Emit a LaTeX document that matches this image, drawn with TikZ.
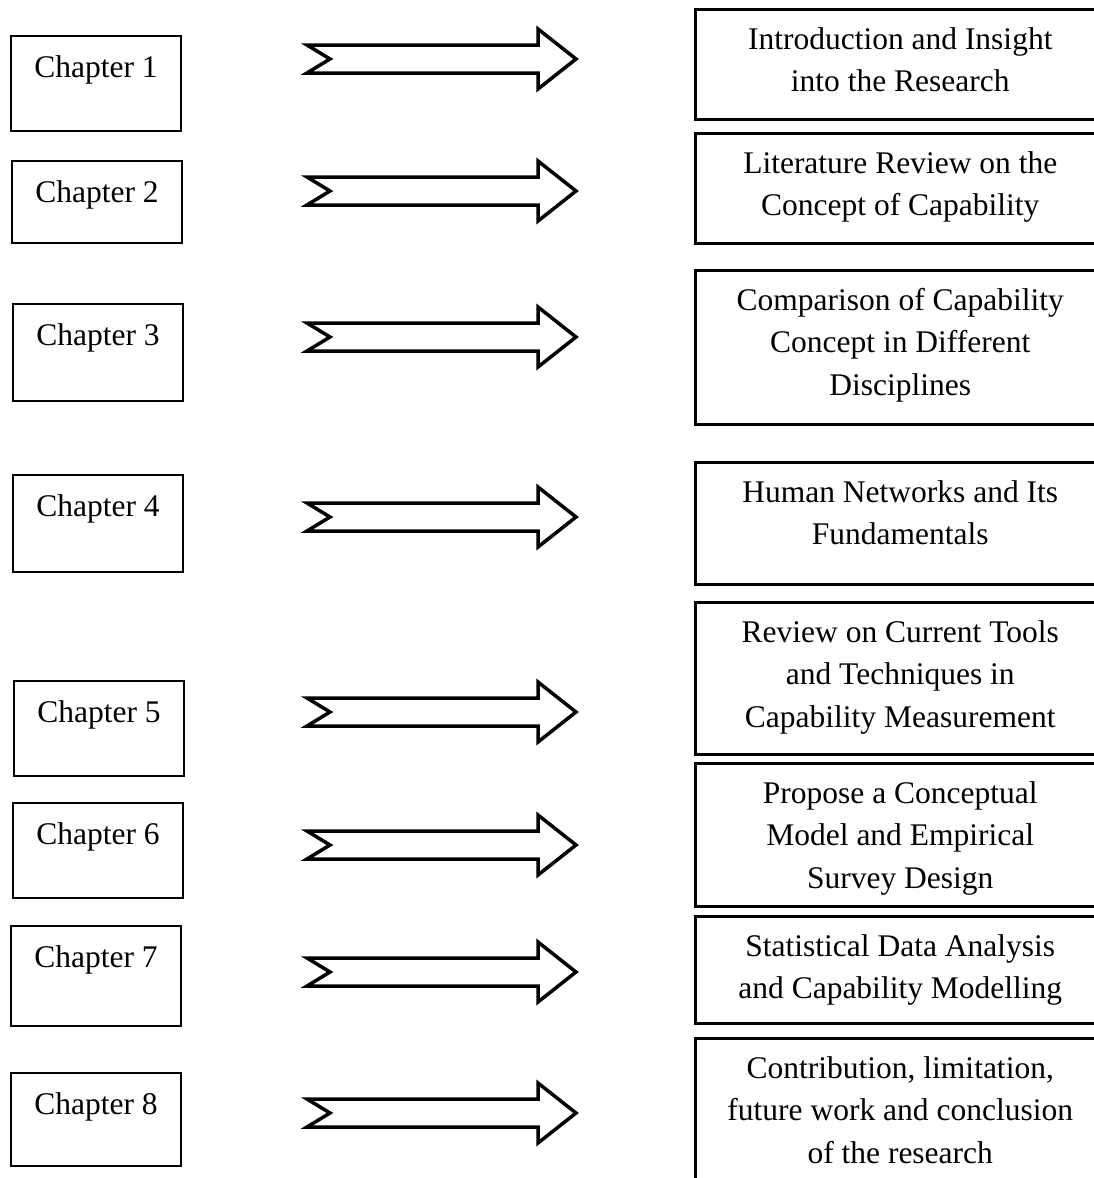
\documentclass[tikz,border=0pt]{standalone}
\usepackage{fontspec}
\setmainfont{Liberation Serif}
\usetikzlibrary{positioning}

\tikzset{
	chapbox/.style={draw=black, line width=2pt, anchor=north west, inner sep=0pt, minimum width=170pt},
	topicbox/.style={draw=black, line width=2.5pt, anchor=north west, inner sep=0pt, minimum width=410pt},
	boxtext/.style={anchor=north, align=center, inner sep=0pt, font=\fontsize{31.5}{42.5}\selectfont},
	bigarrow/.style={draw=black, fill=white, line width=3.5pt}
}

\begin{document}
\begin{tikzpicture}[x=1pt, y=-1pt]
			\useasboundingbox (0, 0) rectangle (1094, 1178);
			% chapters
			\node (c1) [chapbox, minimum height=95pt] at (10, 35) {};
			\node (c2) [chapbox, minimum height=82pt] at (11, 160) {};
			\node (c3) [chapbox, minimum height=97pt] at (12, 303) {};
			\node (c4) [chapbox, minimum height=97pt] at (12, 474) {};
			\node (c5) [chapbox, minimum height=95pt] at (13, 680) {};
			\node (c6) [chapbox, minimum height=95pt] at (12, 802) {};
			\node (c7) [chapbox, minimum height=100pt] at (10, 925) {};
			\node (c8) [chapbox, minimum height=93pt] at (10, 1072) {};
			\foreach \i in {1,...,8}
				\node (l\i) [boxtext, below=20pt of c\i.north] {Chapter \i};
			% topics
			\node (r1) [topicbox, minimum height=110pt] at (694, 8) {};
			\node (r2) [topicbox, minimum height=110pt] at (694, 132) {};
			\node (r3) [topicbox, minimum height=154pt] at (694, 269) {};
			\node (r4) [topicbox, minimum height=122pt] at (694, 461) {};
			\node (r5) [topicbox, minimum height=152pt] at (694, 601) {};
			\node (r6) [topicbox, minimum height=143pt] at (694, 762) {};
			\node (r7) [topicbox, minimum height=107pt] at (694, 915) {};
			\node (r8) [topicbox, minimum height=170pt] at (694, 1037) {};
			\node (t1) [boxtext, below=19pt of r1.north] {Introduction and Insight\\into the Research};
			\node (t2) [boxtext, below=19pt of r2.north] {Literature Review on the\\Concept of Capability};
			\node (t3) [boxtext, below=19pt of r3.north] {Comparison of Capability\\Concept in Different\\Disciplines};
			\node (t4) [boxtext, below=19pt of r4.north] {Human Networks and Its\\Fundamentals};
			\node (t5) [boxtext, below=19pt of r5.north] {Review on Current Tools\\and Techniques in\\Capability Measurement};
			\node (t6) [boxtext, below=19pt of r6.north] {Propose a Conceptual\\Model and Empirical\\Survey Design};
			\node (t7) [boxtext, below=19pt of r7.north] {Statistical Data Analysis\\and Capability Modelling};
			\node (t8) [boxtext, below=19pt of r8.north] {Contribution, limitation,\\future work and conclusion\\of the research};
			% arrows
			\foreach \y in {59, 191, 337, 517, 712, 845, 972, 1113}
				\filldraw [bigarrow] (307, \y-14) -- (538, \y-14) -- (538, \y-30) -- (576, \y)
					-- (538, \y+30) -- (538, \y+14) -- (307, \y+14) -- (330, \y) -- cycle;
		\end{tikzpicture}
\end{document}
